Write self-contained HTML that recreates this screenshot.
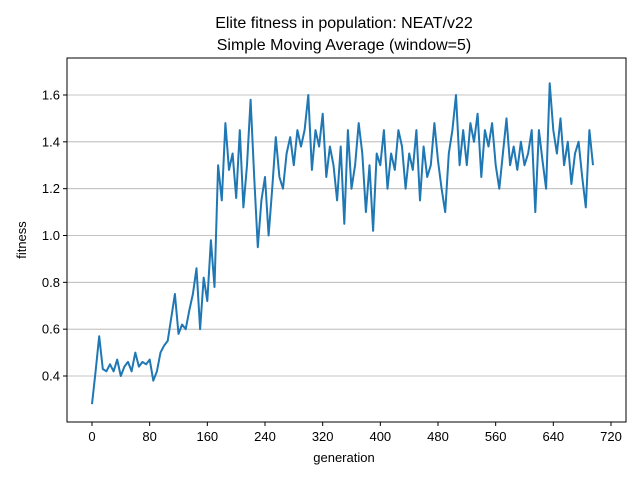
<!DOCTYPE html>
<html><head><meta charset="utf-8"><style>
body{margin:0;background:#fff;}
svg{display:block;font-family:"Liberation Sans","DejaVu Sans",sans-serif;}
</style></head><body>
<svg id="chart" width="640" height="480">
<text x="344" y="28" font-size="16" text-anchor="middle">Elite fitness in population: NEAT/v22</text>
<text x="344" y="50" font-size="16" text-anchor="middle">Simple Moving Average (window=5)</text>
<g id="grid"></g>
<g id="ticks"></g>
<path id="line" fill="none" stroke="#1f77b4" stroke-width="2" stroke-linejoin="round"></path>
<rect x="67" y="58" width="559" height="364" fill="none" stroke="#000" stroke-width="1"></rect>
<text x="344" y="462" font-size="13" text-anchor="middle">generation</text>
<text x="26" y="240" font-size="13" text-anchor="middle" transform="rotate(-90 26 240)">fitness</text>
</svg>
<script>
const xTicks=[0,80,160,240,320,400,480,560,640,720];
const yTicks=[0.4,0.6,0.8,1.0,1.2,1.4,1.6];
const step=5;
const fitness=[0.28,0.42,0.57,0.43,0.42,0.45,0.42,0.47,0.40,0.44,0.46,0.42,0.50,0.44,0.46,0.45,0.47,0.38,0.42,0.50,0.53,0.55,0.65,0.75,0.58,0.62,0.60,0.68,0.75,0.86,0.60,0.82,0.72,0.98,0.78,1.30,1.15,1.48,1.28,1.35,1.16,1.45,1.12,1.30,1.58,1.25,0.95,1.15,1.25,1.00,1.20,1.42,1.25,1.20,1.35,1.42,1.30,1.45,1.38,1.45,1.60,1.28,1.45,1.38,1.52,1.25,1.38,1.30,1.15,1.38,1.05,1.45,1.20,1.30,1.48,1.35,1.10,1.30,1.02,1.35,1.30,1.45,1.20,1.35,1.28,1.45,1.38,1.20,1.35,1.28,1.45,1.15,1.38,1.25,1.30,1.48,1.32,1.20,1.10,1.35,1.45,1.60,1.30,1.45,1.30,1.48,1.40,1.52,1.25,1.45,1.38,1.48,1.30,1.20,1.35,1.50,1.30,1.38,1.28,1.40,1.30,1.35,1.45,1.10,1.45,1.32,1.20,1.65,1.45,1.35,1.50,1.30,1.40,1.22,1.35,1.40,1.25,1.12,1.45,1.30];
const X=g=>92+g*(519/720);
const Y=v=>376-(v-0.4)*(281/1.2);
const NS='http://www.w3.org/2000/svg';
const grid=document.getElementById('grid'),ticks=document.getElementById('ticks');
yTicks.forEach(t=>{
  const l=document.createElementNS(NS,'line');
  l.setAttribute('x1',67);l.setAttribute('x2',626);l.setAttribute('y1',Y(t));l.setAttribute('y2',Y(t));
  l.setAttribute('stroke','#b0b0b0');l.setAttribute('stroke-width','0.8');
  
  
  grid.appendChild(l);
  const tk=document.createElementNS(NS,'line');
  tk.setAttribute('x1',63);tk.setAttribute('x2',67);tk.setAttribute('y1',Y(t));tk.setAttribute('y2',Y(t));tk.setAttribute('stroke','#000');
  
  
  ticks.appendChild(tk);
  const tx=document.createElementNS(NS,'text');
  tx.setAttribute('x',60);tx.setAttribute('y',Y(t)+4.5);tx.setAttribute('font-size','13');tx.setAttribute('text-anchor','end');
  tx.textContent=t.toFixed(1);
  
  
  ticks.appendChild(tx);
});
xTicks.forEach(t=>{
  const tk=document.createElementNS(NS,'line');
  tk.setAttribute('x1',X(t));tk.setAttribute('x2',X(t));tk.setAttribute('y1',422);tk.setAttribute('y2',426);tk.setAttribute('stroke','#000');
  
  
  ticks.appendChild(tk);
  const tx=document.createElementNS(NS,'text');
  tx.setAttribute('x',X(t));tx.setAttribute('y',441);tx.setAttribute('font-size','13');tx.setAttribute('text-anchor','middle');
  tx.textContent=t;
  
  
  ticks.appendChild(tx);
});
document.getElementById('line').setAttribute('d',fitness.map((v,i)=>(i?'L':'M')+X(i*step).toFixed(1)+','+Y(v).toFixed(1)).join(''));
</script>
</body></html>
